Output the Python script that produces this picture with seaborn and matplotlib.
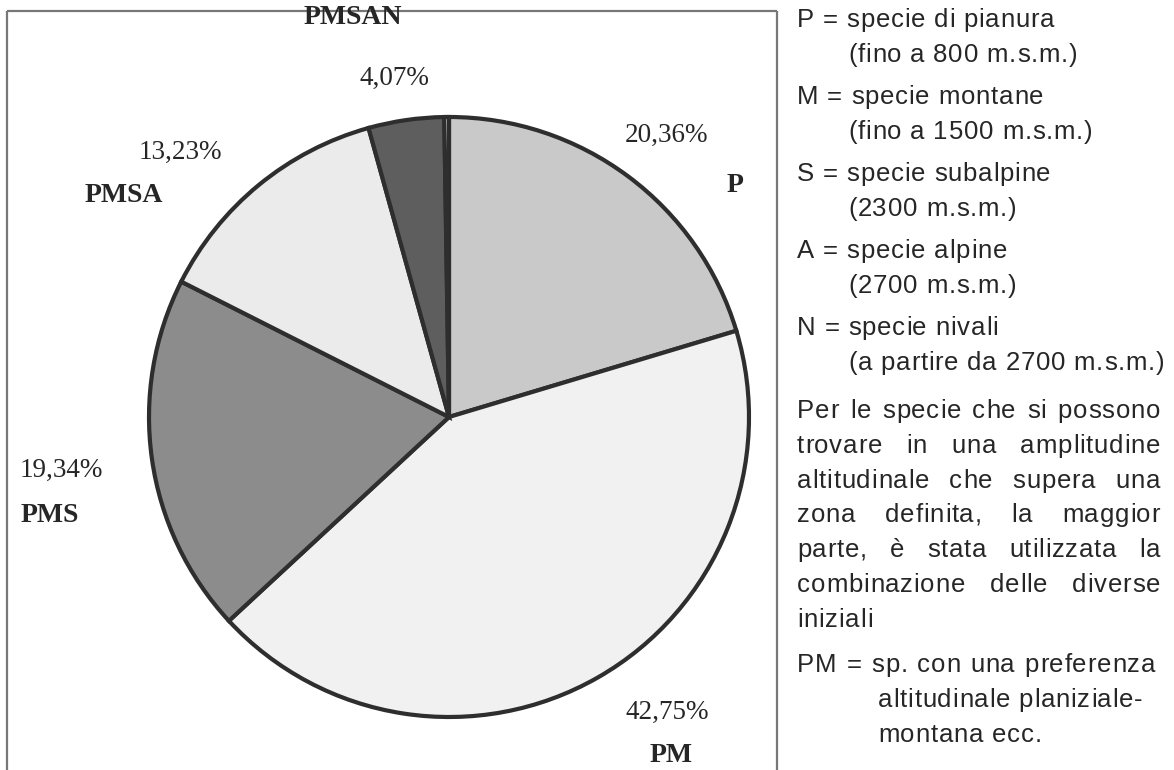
import matplotlib
matplotlib.use("Agg")
import matplotlib.pyplot as plt
import seaborn as sns

# dati del grafico
categorie = ["P", "PM", "PMS", "PMSA", "PMSAN", ""]
percentuali = [20.36, 42.75, 19.34, 13.23, 4.07, 0.25]
etichette_pct = ["20,36%", "42,75%", "19,34%", "13,23%", "4,07%", ""]
grigi = ["#c9c9c9", "#f1f1f1", "#8c8c8c", "#ebebeb", "#5e5e5e", "#ffffff"]

legenda = [
    ("P = specie di pianura", 0),
    ("(fino a 800 m.s.m.)", 1),
    ("M = specie montane", 0),
    ("(fino a 1500 m.s.m.)", 1),
    ("S = specie subalpine", 0),
    ("(2300 m.s.m.)", 1),
    ("A = specie alpine", 0),
    ("(2700 m.s.m.)", 1),
    ("N = specie nivali", 0),
    ("(a partire da 2700 m.s.m.)", 1),
]
paragrafo = [
    "Per le specie che si possono",
    "trovare in una amplitudine",
    "altitudinale che supera una",
    "zona definita, la maggior",
    "parte, è stata utilizzata la",
    "combinazione delle diverse",
]
nota_pm = ["PM = sp. con una preferenza", "altitudinale planiziale-", "montana ecc."]

W, H = 1174, 770

sns.set_theme(style="white")
plt.rcParams["font.family"] = ["Liberation Sans", "DejaVu Sans"]

fig = plt.figure(figsize=(W / 100, H / 100), dpi=100)
ax = fig.add_axes([0, 0, 1, 1])

ax.pie(percentuali, colors=grigi, center=(449, H - 417), radius=300,
       startangle=90, counterclock=False, frame=True,
       wedgeprops=dict(edgecolor="#2e2e2e", linewidth=3))
ax.set_xlim(0, W)
ax.set_ylim(0, H)
ax.set_aspect("equal")
ax.axis("off")

# cornice del grafico (aperta in basso)
box = dict(color="#777777", lw=1.6, solid_capstyle="butt")
ax.plot([7, 777], [H - 11, H - 11], **box)
ax.plot([7, 7], [H - 11, 0], **box)
ax.plot([777, 777], [H - 11, 0], **box)

serif = ["Liberation Serif", "DejaVu Serif"]
txt = "#262626"
# posizioni etichette: (x pct, y pct, x cod, y cod)
pos = {
    "P": (666, 135, 735, 185),
    "PM": (667, 712, 671, 755),
    "PMS": (61, 470, 50, 515),
    "PMSA": (180, 152, 124, 195),
    "PMSAN": (394, 78, 353, 18),
}
for cat, pct in zip(categorie, etichette_pct):
    if not cat:
        continue
    xp, yp, xc, yc = pos[cat]
    ax.text(xp, H - yp, pct, ha="center", va="center", fontsize=19.5,
            family=serif, color=txt)
    ax.text(xc, H - yc, cat, ha="center", va="center", fontsize=20,
            family=serif, fontweight="bold", color=txt)

# testo a destra, con spaziatura tra le lettere
fs = 18.5
trk = 0.8
renderer = fig.canvas.get_renderer()
_cache = {}


def larg(s):
    t = ax.text(0, 0, s, fontsize=fs)
    w = t.get_window_extent(renderer).width
    t.remove()
    return w


def avanzamento(c):
    if c not in _cache:
        _cache[c] = larg("x" + c + "x") - larg("xx")
    return _cache[c]


def larg_parola(p):
    return sum(avanzamento(c) for c in p) + trk * (len(p) - 1)


def scrivi(parola, x, yy):
    for c in parola:
        ax.text(x, H - yy, c, ha="left", va="center", fontsize=fs, color=txt)
        x += avanzamento(c) + trk
    return x


def riga(s, x0, yy, x1=None):
    parole = s.split()
    if x1 is None:
        spazio = avanzamento(" ") + 2 * trk
    else:
        spazio = (x1 - x0 - sum(larg_parola(p) for p in parole)) / max(len(parole) - 1, 1)
    x = x0
    for p in parole:
        scrivi(p, x, yy)
        x += larg_parola(p) + spazio


y = 20
for testo, rientro in legenda:
    riga(testo, 848 if rientro else 797, y)
    y += 35 if rientro == 0 else 42

yy = 411
for testo in paragrafo:
    riga(testo, 797, yy, 1160)
    yy += 34.8
riga("iniziali", 797, 620)

riga(nota_pm[0], 797, 665, 1155)
riga(nota_pm[1], 878, 700)
riga(nota_pm[2], 878, 735)

fig.savefig("out.png", dpi=100)
